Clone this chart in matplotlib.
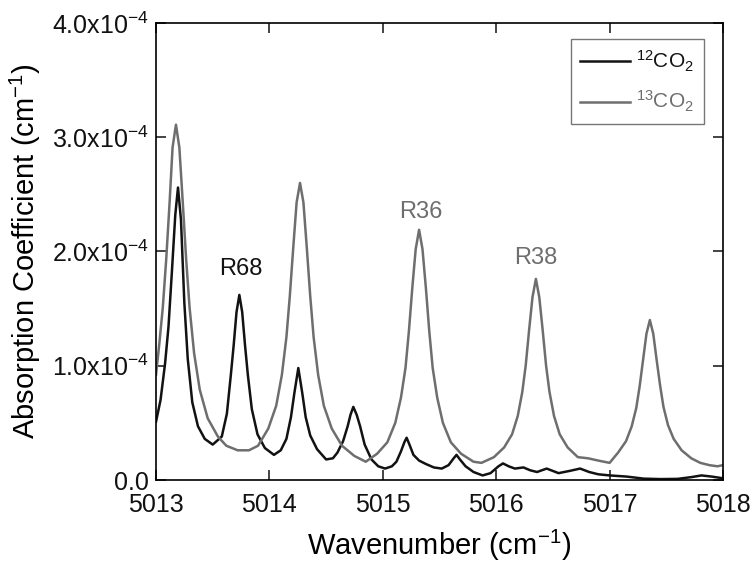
import matplotlib
matplotlib.use('Agg')
import matplotlib.pyplot as plt
from matplotlib.ticker import FuncFormatter, MultipleLocator

plt.rcParams['font.family'] = ['Liberation Sans', 'DejaVu Sans']
plt.rcParams['mathtext.fontset'] = 'custom'
plt.rcParams['mathtext.rm'] = 'Liberation Sans'
plt.rcParams['mathtext.it'] = 'Liberation Sans'

# 13CO2 spectrum (wavenumber in cm-1, absorption in 1e-4 cm-1)
wn_13 = [5013.00, 5013.03, 5013.06, 5013.09, 5013.12, 5013.146, 5013.176, 5013.206,
         5013.236, 5013.266, 5013.296, 5013.336, 5013.386, 5013.456, 5013.546,
         5013.62, 5013.72, 5013.82, 5013.90, 5013.99, 5014.06, 5014.11, 5014.15,
         5014.18, 5014.21, 5014.24, 5014.27, 5014.30, 5014.33, 5014.36, 5014.39,
         5014.43, 5014.48, 5014.55, 5014.64, 5014.75, 5014.85, 5014.95, 5015.04,
         5015.11, 5015.16, 5015.20, 5015.23, 5015.26, 5015.29, 5015.32, 5015.35,
         5015.38, 5015.41, 5015.44, 5015.48, 5015.53, 5015.60, 5015.69, 5015.80,
         5015.87, 5015.98, 5016.07, 5016.14, 5016.19, 5016.23, 5016.26, 5016.29,
         5016.32, 5016.35, 5016.38, 5016.41, 5016.44, 5016.47, 5016.51, 5016.56,
         5016.63, 5016.72, 5016.81, 5016.90, 5017.00, 5017.075, 5017.145,
         5017.195, 5017.235, 5017.265, 5017.295, 5017.325, 5017.355, 5017.385,
         5017.415, 5017.445, 5017.475, 5017.515, 5017.565, 5017.635, 5017.72,
         5017.80, 5017.88, 5017.95, 5018.00]
abs_13 = [0.92, 1.20, 1.51, 1.93, 2.43, 2.91, 3.11, 2.91,
          2.43, 1.93, 1.51, 1.11, 0.79, 0.54, 0.38,
          0.30, 0.26, 0.26, 0.30, 0.45, 0.65, 0.92, 1.25,
          1.61, 2.03, 2.43, 2.60, 2.43, 2.03, 1.61, 1.25,
          0.92, 0.65, 0.45, 0.30, 0.21, 0.16, 0.23, 0.33,
          0.50, 0.72, 0.98, 1.30, 1.68, 2.02, 2.19, 2.02,
          1.68, 1.30, 0.98, 0.72, 0.50, 0.33, 0.23, 0.16,
          0.15, 0.20, 0.285, 0.40, 0.56, 0.77, 1.00, 1.31,
          1.60, 1.76, 1.60, 1.31, 1.00, 0.77, 0.56, 0.40,
          0.285, 0.20, 0.19, 0.17, 0.15, 0.24, 0.34,
          0.47, 0.63, 0.82, 1.05, 1.28, 1.40, 1.28,
          1.05, 0.83, 0.64, 0.48, 0.36, 0.26, 0.19,
          0.15, 0.13, 0.12, 0.13]

# 12CO2 spectrum
wn_12 = [5013.00, 5013.04, 5013.08, 5013.11, 5013.14, 5013.17, 5013.194, 5013.22,
         5013.25, 5013.28, 5013.32, 5013.37, 5013.43, 5013.50, 5013.58, 5013.625,
         5013.66, 5013.685, 5013.71, 5013.735, 5013.76, 5013.785, 5013.81, 5013.845,
         5013.895, 5013.96, 5014.04, 5014.10, 5014.15, 5014.19, 5014.22, 5014.255,
         5014.29, 5014.32, 5014.36, 5014.42, 5014.50, 5014.56, 5014.60, 5014.65,
         5014.69, 5014.715, 5014.74, 5014.77, 5014.80, 5014.84, 5014.90, 5014.96,
         5015.02, 5015.08, 5015.12, 5015.16, 5015.19, 5015.21, 5015.235, 5015.27,
         5015.32, 5015.38, 5015.45, 5015.52, 5015.58, 5015.625, 5015.65, 5015.68,
         5015.73, 5015.80, 5015.88, 5015.95, 5016.02, 5016.06, 5016.11, 5016.165,
         5016.24, 5016.30, 5016.36, 5016.445, 5016.55, 5016.65, 5016.74, 5016.82,
         5016.90, 5017.00, 5017.15, 5017.30, 5017.45, 5017.60, 5017.72, 5017.81,
         5017.90, 5018.00]
abs_12 = [0.51, 0.70, 1.02, 1.34, 1.82, 2.32, 2.56, 2.28,
          1.55, 1.06, 0.68, 0.47, 0.36, 0.31, 0.38, 0.58,
          0.92, 1.18, 1.47, 1.62, 1.47, 1.18, 0.92, 0.62,
          0.40, 0.28, 0.22, 0.26, 0.36, 0.55, 0.76, 0.98,
          0.76, 0.55, 0.39, 0.27, 0.18, 0.19, 0.24, 0.34,
          0.47, 0.57, 0.64, 0.57, 0.47, 0.31, 0.18, 0.12,
          0.10, 0.12, 0.16, 0.25, 0.33, 0.37, 0.31, 0.22,
          0.17, 0.14, 0.11, 0.10, 0.13, 0.19, 0.22, 0.18,
          0.12, 0.07, 0.04, 0.06, 0.12, 0.145, 0.12, 0.10,
          0.11, 0.085, 0.07, 0.10, 0.06, 0.08, 0.10, 0.07,
          0.05, 0.04, 0.03, 0.012, 0.008, 0.01, 0.025, 0.04,
          0.03, 0.015]

# line labels: (text, wavenumber, absorption in 1e-4, species)
line_labels = [('R68', 5013.75, 1.85, '12'),
               ('R36', 5015.335, 2.345, '13'),
               ('R38', 5016.35, 1.94, '13')]

colors = {'12': '#121212', '13': '#6e6e6e'}

fig = plt.figure(figsize=(7.55, 5.66), dpi=100)
ax = fig.add_axes([156 / 755, 86 / 566, 567 / 755, 457 / 566])

ax.plot(wn_12, [v * 1e-4 for v in abs_12], color=colors['12'], lw=1.8,
        solid_joinstyle='round', label=r'$^{12}$CO$_2$')
ax.plot(wn_13, [v * 1e-4 for v in abs_13], color=colors['13'], lw=1.8,
        solid_joinstyle='round', label=r'$^{13}$CO$_2$')

for text, x, y, sp in line_labels:
    ax.text(x, y * 1e-4, text, color=colors[sp], fontsize=17,
            ha='center', va='center')

ax.set_xlim(5013, 5018)
ax.set_ylim(0, 4e-4)
ax.xaxis.set_major_locator(MultipleLocator(1))
ax.yaxis.set_major_locator(MultipleLocator(1e-4))


def sci_fmt(v, pos):
    if abs(v) < 1e-12:
        return '0.0'
    return '%.1fx10$^{-4}$' % (v * 1e4)


ax.yaxis.set_major_formatter(FuncFormatter(sci_fmt))
ax.xaxis.set_major_formatter(FuncFormatter(lambda v, p: '%d' % round(v)))

ax.tick_params(direction='in', length=7, width=1.1, top=True, right=True,
               labelsize=18, colors='#111111')
ax.tick_params(axis='x', pad=9)
ax.tick_params(axis='y', pad=5)
for s in ax.spines.values():
    s.set_linewidth(1.2)

ax.set_xlabel('Wavenumber (cm$^{-1}$)', fontsize=21, labelpad=8)
ax.set_ylabel('Absorption Coefficient (cm$^{-1}$)', fontsize=21, labelpad=7)

leg = ax.legend(loc='upper right', bbox_to_anchor=(0.966, 0.965),
                borderaxespad=0, fontsize=15, frameon=True, fancybox=False,
                edgecolor='#555555', labelcolor='linecolor', handlelength=2.4,
                handletextpad=0.3, borderpad=0.45, labelspacing=0.75)
leg.get_frame().set_linewidth(1.0)

fig.savefig('out.png', dpi=100)
